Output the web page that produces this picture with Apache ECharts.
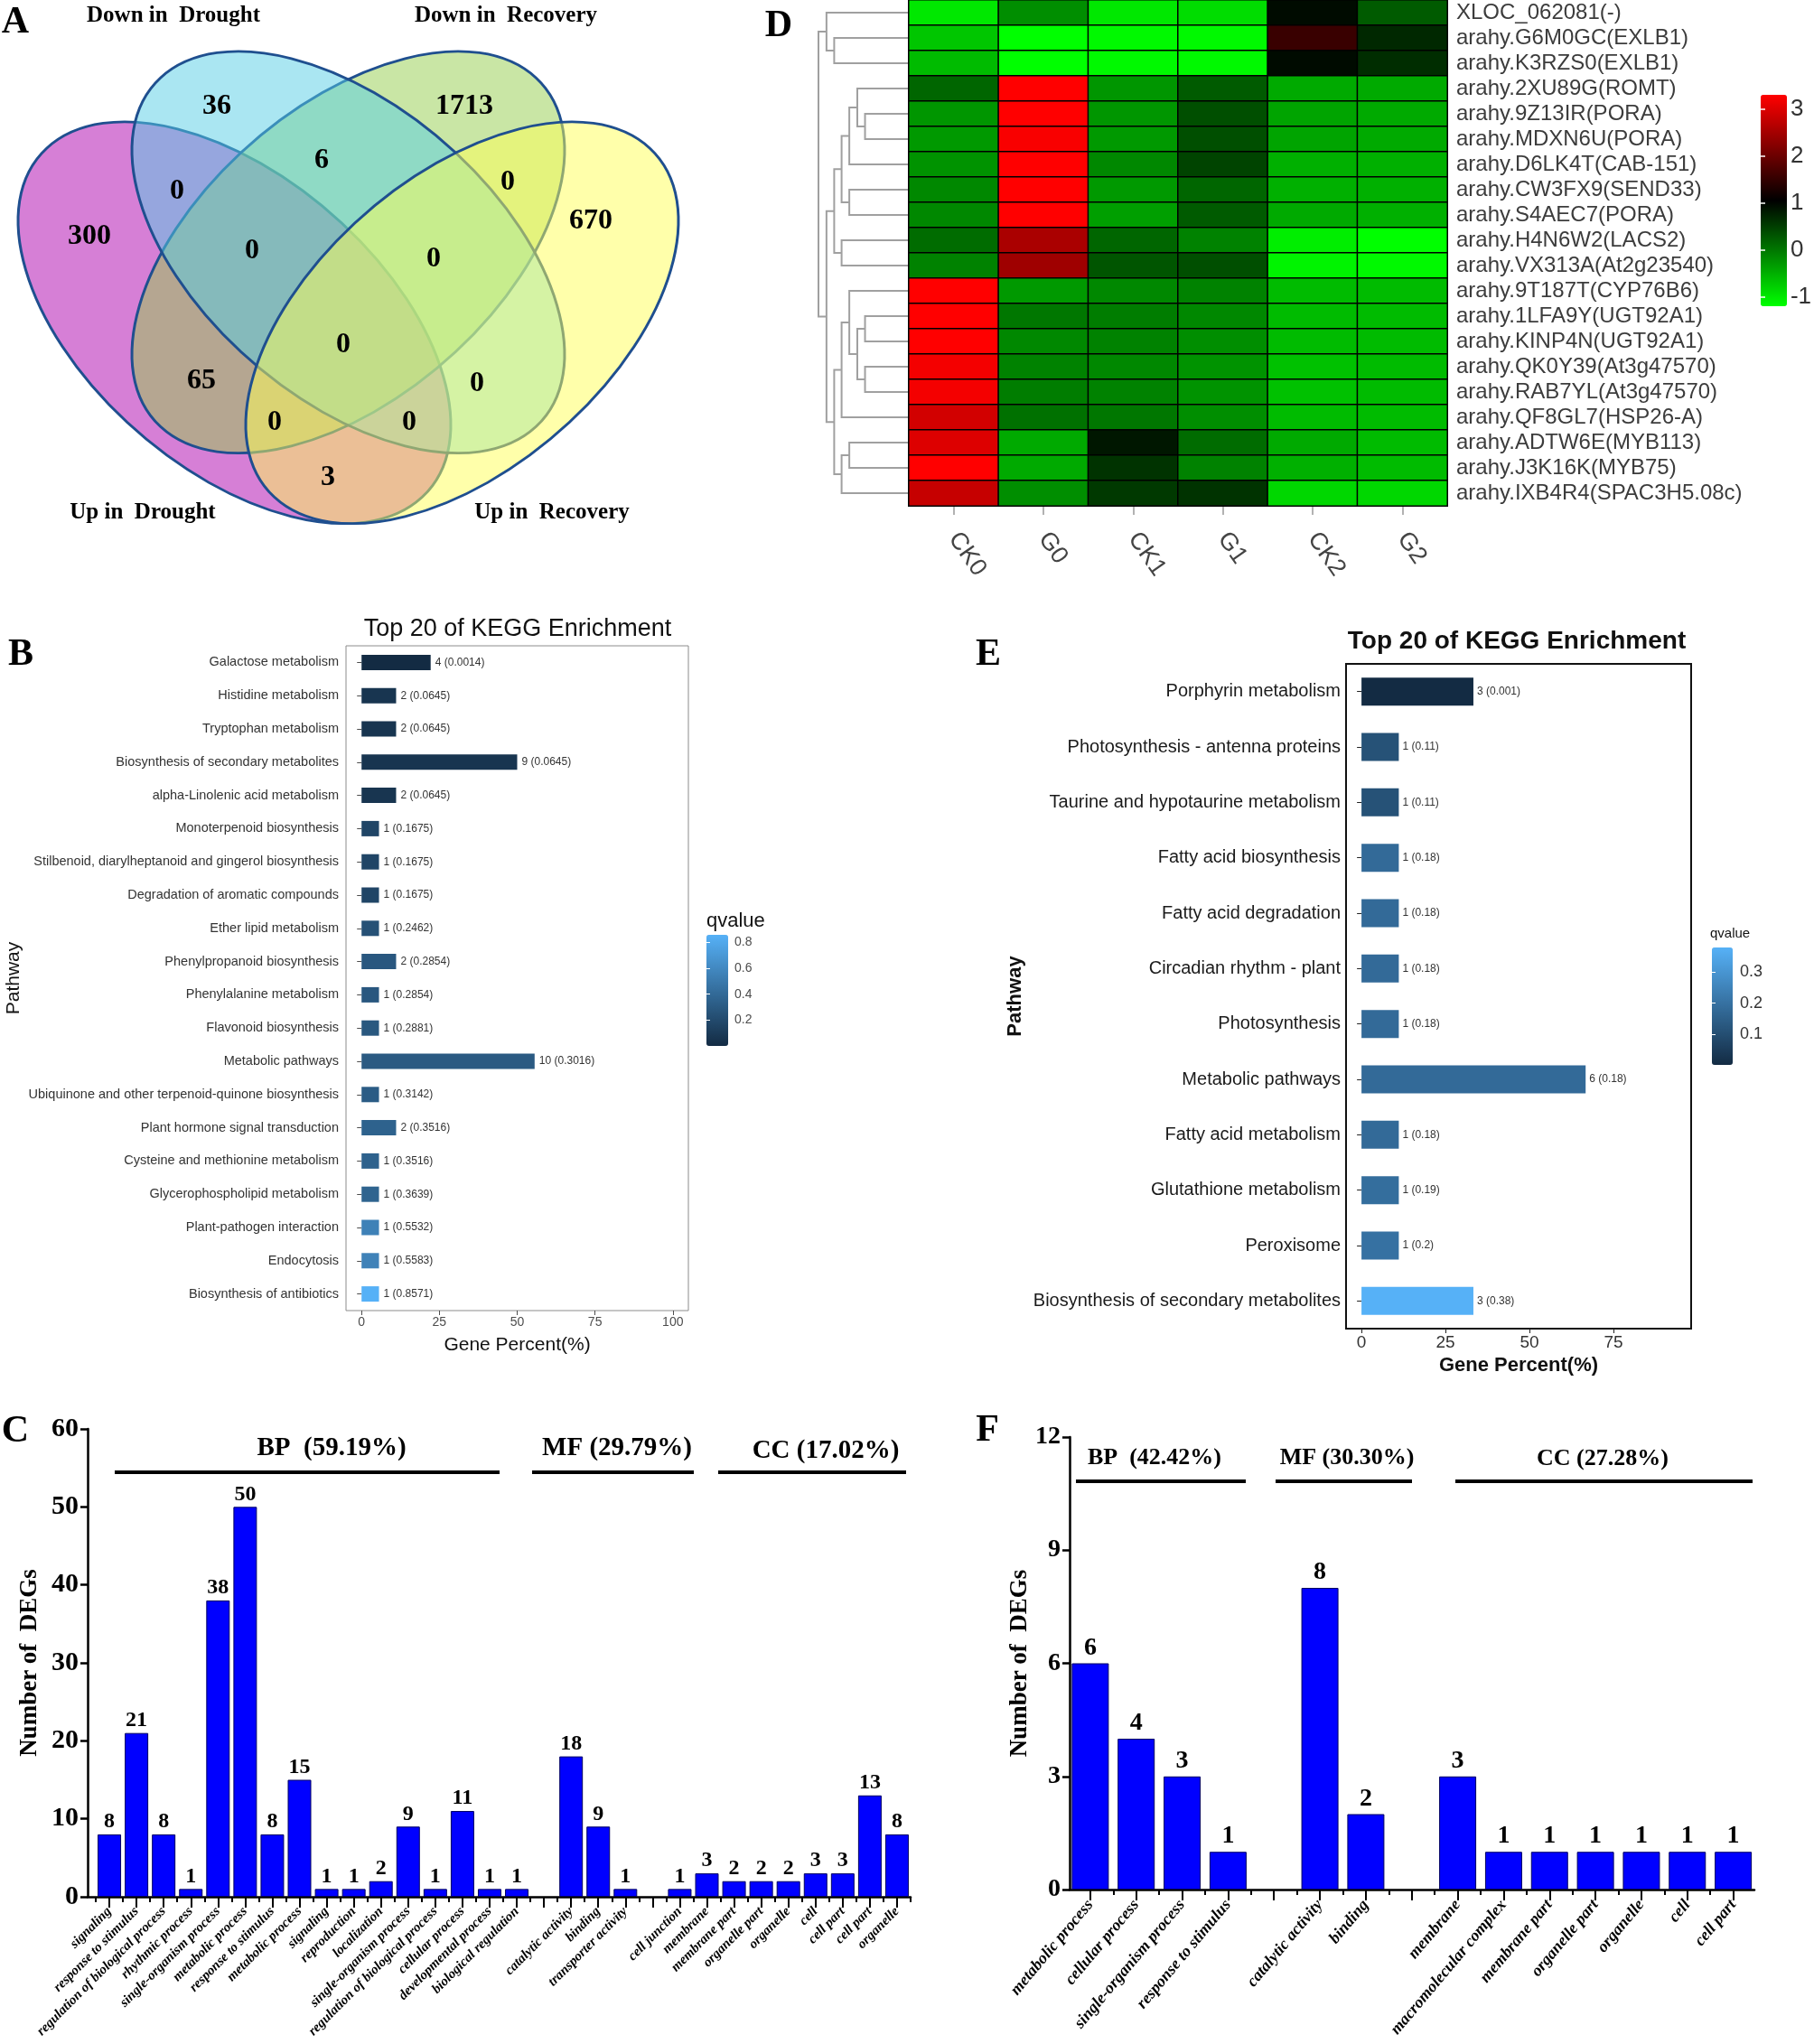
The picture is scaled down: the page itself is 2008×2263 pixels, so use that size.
<!DOCTYPE html>
<html><head><meta charset="utf-8">
<script src="https://cdn.jsdelivr.net/npm/echarts@6/dist/echarts.min.js"></script>
<style>html,body{margin:0;padding:0;background:#fff;}#c{width:2008px;height:2263px;}</style>
</head><body><div id="c"></div>
<script>
// ================= DATA =================
// Panel A – Venn
const vennSetNames = ['Down in  Drought', 'Down in  Recovery', 'Up in  Drought', 'Up in  Recovery'];
const vennRegionCounts = [36, 1713, 300, 670, 6, 0, 0, 0, 0, 0, 65, 0, 0, 0, 3];

// Panel D – heatmap
const heatCols = ['CK0', 'G0', 'CK1', 'G1', 'CK2', 'G2'];
const heatRows = ['XLOC_062081(-)', 'arahy.G6M0GC(EXLB1)', 'arahy.K3RZS0(EXLB1)', 'arahy.2XU89G(ROMT)',
  'arahy.9Z13IR(PORA)', 'arahy.MDXN6U(PORA)', 'arahy.D6LK4T(CAB-151)', 'arahy.CW3FX9(SEND33)',
  'arahy.S4AEC7(PORA)', 'arahy.H4N6W2(LACS2)', 'arahy.VX313A(At2g23540)', 'arahy.9T187T(CYP76B6)',
  'arahy.1LFA9Y(UGT92A1)', 'arahy.KINP4N(UGT92A1)', 'arahy.QK0Y39(At3g47570)', 'arahy.RAB7YL(At3g47570)',
  'arahy.QF8GL7(HSP26-A)', 'arahy.ADTW6E(MYB113)', 'arahy.J3K16K(MYB75)', 'arahy.IXB4R4(SPAC3H5.08c)'];
const heatValues = [
  [-1.0, -0.2, -1.0, -0.9, 0.95, 0.25],
  [-0.7, -1.2, -1.15, -1.15, 1.55, 0.7],
  [-0.6, -1.2, -1.15, -1.15, 0.95, 0.65],
  [0.15, 3.3, -0.27, 0.25, -0.45, -0.45],
  [-0.27, 3.3, -0.27, 0.35, -0.4, -0.45],
  [-0.3, 3.25, -0.3, 0.35, -0.4, -0.45],
  [-0.25, 3.3, -0.15, 0.45, -0.5, -0.5],
  [-0.15, 3.3, -0.3, 0.15, -0.5, -0.5],
  [-0.15, 3.3, -0.35, 0.25, -0.45, -0.5],
  [0.1, 2.55, 0.15, -0.1, -1.05, -1.2],
  [-0.1, 2.45, 0.3, 0.35, -1.1, -1.15],
  [3.3, -0.3, -0.15, -0.1, -0.6, -0.6],
  [3.3, 0.0, -0.05, -0.15, -0.6, -0.6],
  [3.3, -0.15, -0.1, -0.2, -0.6, -0.6],
  [3.2, -0.1, -0.15, -0.25, -0.65, -0.6],
  [3.2, -0.05, -0.1, -0.25, -0.65, -0.6],
  [2.9, 0.05, 0.0, -0.2, -0.6, -0.6],
  [3.0, -0.45, 0.85, 0.1, -0.45, -0.6],
  [3.3, -0.45, 0.6, -0.1, -0.5, -0.6],
  [2.8, -0.2, 0.55, 0.6, -0.85, -0.85]
];
const heatTicks = [-1, 0, 1, 2, 3];
// dendrogram merges (hclust style: negative = leaf row number, positive = earlier merge), height
const dendroMerges = [
  [-2, -3, 242], [-1, 1, 267], [-5, -6, 142], [-4, 3, 167], [4, -7, 193], [-8, -9, 193],
  [5, 6, 218], [-10, -11, 218], [7, 8, 242], [-13, -14, 142], [-15, -16, 142], [10, 11, 167],
  [-12, 12, 193], [13, -17, 218], [-18, -19, 193], [15, -20, 218], [14, 16, 242], [9, 17, 267], [2, 18, 293]
];

// Panel B – KEGG
const keggBNames = ['Galactose metabolism', 'Histidine metabolism', 'Tryptophan metabolism',
  'Biosynthesis of secondary metabolites', 'alpha-Linolenic acid metabolism', 'Monoterpenoid biosynthesis',
  'Stilbenoid, diarylheptanoid and gingerol biosynthesis', 'Degradation of aromatic compounds',
  'Ether lipid metabolism', 'Phenylpropanoid biosynthesis', 'Phenylalanine metabolism', 'Flavonoid biosynthesis',
  'Metabolic pathways', 'Ubiquinone and other terpenoid-quinone biosynthesis', 'Plant hormone signal transduction',
  'Cysteine and methionine metabolism', 'Glycerophospholipid metabolism', 'Plant-pathogen interaction',
  'Endocytosis', 'Biosynthesis of antibiotics'];
const keggBCounts = [4, 2, 2, 9, 2, 1, 1, 1, 1, 2, 1, 1, 10, 1, 2, 1, 1, 1, 1, 1];
const keggBPercent = [22.2, 11.1, 11.1, 50.0, 11.1, 5.6, 5.6, 5.6, 5.6, 11.1, 5.6, 5.6, 55.6, 5.6, 11.1, 5.6, 5.6, 5.6, 5.6, 5.6];
const keggBQ = [0.0014, 0.0645, 0.0645, 0.0645, 0.0645, 0.1675, 0.1675, 0.1675, 0.2462, 0.2854, 0.2854, 0.2881,
  0.3016, 0.3142, 0.3516, 0.3516, 0.3639, 0.5532, 0.5583, 0.8571];
const keggBTicks = [0, 25, 50, 75, 100];
const keggBQTicks = [0.2, 0.4, 0.6, 0.8];

// Panel E – KEGG
const keggENames = ['Porphyrin metabolism', 'Photosynthesis - antenna proteins', 'Taurine and hypotaurine metabolism',
  'Fatty acid biosynthesis', 'Fatty acid degradation', 'Circadian rhythm - plant', 'Photosynthesis',
  'Metabolic pathways', 'Fatty acid metabolism', 'Glutathione metabolism', 'Peroxisome',
  'Biosynthesis of secondary metabolites'];
const keggECounts = [3, 1, 1, 1, 1, 1, 1, 6, 1, 1, 1, 3];
const keggEPercent = [33.3, 11.1, 11.1, 11.1, 11.1, 11.1, 11.1, 66.7, 11.1, 11.1, 11.1, 33.3];
const keggEQ = [0.001, 0.11, 0.11, 0.18, 0.18, 0.18, 0.18, 0.18, 0.18, 0.19, 0.2, 0.38];
const keggETicks = [0, 25, 50, 75];
const keggEQTicks = [0.1, 0.2, 0.3];

// Panel C – GO
const goC_BP = ['signaling', 'response to stimulus', 'regulation of biological process', 'rhythmic process',
  'single-organism process', 'metabolic process', 'response to stimulus', 'metabolic process', 'signaling',
  'reproduction', 'localization', 'single-organism process', 'regulation of biological process',
  'cellular process', 'developmental process', 'biological regulation'];
const goC_BPvals = [8, 21, 8, 1, 38, 50, 8, 15, 1, 1, 2, 9, 1, 11, 1, 1];
const goC_MF = ['catalytic activity', 'binding', 'transporter activity'];
const goC_MFvals = [18, 9, 1];
const goC_CC = ['cell junction', 'membrane', 'membrane part', 'organelle part', 'organelle', 'cell', 'cell part', 'cell part', 'organelle'];
const goC_CCvals = [1, 3, 2, 2, 2, 3, 3, 13, 8];
const goC_groups = ['BP  (59.19%)', 'MF (29.79%)', 'CC (17.02%)'];

// Panel F – GO
const goF_BP = ['metabolic process', 'cellular process', 'single-organism process', 'response to stimulus'];
const goF_BPvals = [6, 4, 3, 1];
const goF_MF = ['catalytic activity', 'binding'];
const goF_MFvals = [8, 2];
const goF_CC = ['membrane', 'macromolecular complex', 'membrane part', 'organelle part', 'organelle', 'cell', 'cell part'];
const goF_CCvals = [3, 1, 1, 1, 1, 1, 1];
const goF_groups = ['BP  (42.42%)', 'MF (30.30%)', 'CC (27.28%)'];

// ================= LAYOUT / STYLE =================
const SERIF = '"Liberation Serif","Times New Roman",serif';
const SANS = '"Liberation Sans",Arial,sans-serif';

// Venn ellipses, local coords of a group (origin at 385.5,279.3, vertical squeeze)
const vennEllipses = [ // drawing order: pink (Up in Drought), green (Down in Recovery), cyan (Down in Drought), yellow (Up in Recovery)
  {x: -126, y: 84, rot: -Math.PI / 4, fill: 'rgba(173,0,173,0.5)'},
  {x: 0, y: 0, rot: Math.PI / 4, fill: 'rgba(147,205,75,0.5)'},
  {x: 0, y: 0, rot: -Math.PI / 4, fill: 'rgba(85,205,229,0.5)'},
  {x: 126, y: 84, rot: Math.PI / 4, fill: 'rgba(255,255,85,0.5)'}
];
const vennRX = 294, vennRY = 168;
const vennCountPos = [[240,118],[514,118],[99,262],[654,245],[356,178],[196,212],[562,202],[279,278],[480,287],[380,382],[223,422],[528,425],[304,468],[453,468],[363,529]];
const vennLabelPos = [[192,18],[560,18],[158,568],[611,568]];

function txt(x, y, text, font, opts) {
  opts = opts || {};
  return {type: 'text', x: x, y: y, rotation: opts.rotation || 0, z: 100,
    style: {text: text, font: font, fill: opts.fill || '#000',
      align: opts.align || 'center', verticalAlign: opts.valign || 'middle',
      textAlign: opts.align || 'center', textVerticalAlign: opts.valign || 'middle'}};
}

const graphics = [];
graphics.push({type: 'group', x: 385.5, y: 279.3, scaleX: 1, scaleY: 780 / 840, z: 10,
  children: vennEllipses.map(e => ({type: 'ellipse', x: e.x, y: e.y, rotation: e.rot, z: 10,
    shape: {cx: 0, cy: 0, rx: vennRX, ry: vennRY}, style: {fill: e.fill, stroke: '#1f4f8f', lineWidth: 3}}))});
vennRegionCounts.forEach((v, i) => graphics.push(txt(vennCountPos[i][0], vennCountPos[i][1], String(v), 'bold 32px ' + SERIF)));
vennSetNames.forEach((s, i) => graphics.push(txt(vennLabelPos[i][0], vennLabelPos[i][1], s, 'bold 25px ' + SERIF)));

// panel letters
[['A',17,25],['D',862,29],['B',23,725],['E',1094,725],['C',17,1585],['F',1093,1584]].forEach(p =>
  graphics.push(txt(p[1], p[2], p[0], 'bold 42px ' + SERIF)));

// titles & colorbar titles
graphics.push(txt(573, 697, 'Top 20 of KEGG Enrichment', '27px ' + SANS, {fill: '#111'}));
graphics.push(txt(1679, 710, 'Top 20 of KEGG Enrichment', 'bold 28px ' + SANS, {fill: '#111'}));
graphics.push(txt(782, 1020, 'qvalue', '22px ' + SANS, {align: 'left', fill: '#111'}));
graphics.push(txt(1893, 1034, 'qvalue', '15px ' + SANS, {align: 'left', fill: '#111'}));

// GO group annotations
const goCGroupLayout = [[367,1604,127,553],[683,1604,589,768],[914,1607,795,1003]];
const goFGroupLayout = [[1278,1614,1191,1379],[1491,1614,1412,1563],[1774,1615,1611,1940]];
goC_groups.forEach((g, i) => {
  const L = goCGroupLayout[i];
  graphics.push(txt(L[0], L[1], g, 'bold 29px ' + SERIF));
  graphics.push({type: 'line', shape: {x1: L[2], y1: 1630, x2: L[3], y2: 1630}, style: {stroke: '#000', lineWidth: 4}});
});
goF_groups.forEach((g, i) => {
  const L = goFGroupLayout[i];
  graphics.push(txt(L[0], L[1], g, 'bold 26px ' + SERIF));
  graphics.push({type: 'line', shape: {x1: L[2], y1: 1640, x2: L[3], y2: 1640}, style: {stroke: '#000', lineWidth: 4}});
});

// ================= derived series data =================
function dendroSegments() {
  const pos = [];
  const node = r => r < 0 ? {x: 0, y: -r - 1} : pos[r - 1];
  const segs = [];
  dendroMerges.forEach(m => {
    const A = node(m[0]), B = node(m[1]), h = m[2];
    segs.push({coords: [[A.x, A.y], [h, A.y], [h, B.y], [B.x, B.y]]});
    pos.push({x: h, y: (A.y + B.y) / 2});
  });
  return segs;
}
const heatData = [];
heatValues.forEach((row, r) => row.forEach((v, c) => heatData.push([c, r, v])));

const keggBData = keggBNames.map((n, i) => [keggBPercent[i], i, keggBQ[i], keggBCounts[i]]);
const keggEData = keggENames.map((n, i) => [keggEPercent[i], i, keggEQ[i], keggECounts[i]]);

function goSlots(groups) { // groups separated by one empty slot
  const names = {}, data = []; let s = 0;
  groups.forEach((g, gi) => {
    if (gi > 0) s++;
    g[0].forEach((n, i) => { names[s] = n; data.push([s, g[1][i]]); s++; });
  });
  const centers = [], bounds = [];
  for (let i = 0; i < s; i++) centers.push(i);
  for (let i = 0; i <= s; i++) bounds.push(i - 0.5);
  return {names, data, centers, bounds, n: s};
}
const goC = goSlots([[goC_BP, goC_BPvals], [goC_MF, goC_MFvals], [goC_CC, goC_CCvals]]);
const goF = goSlots([[goF_BP, goF_BPvals], [goF_MF, goF_MFvals], [goF_CC, goF_CCvals]]);

// ================= OPTION =================
const hidden = {show: false};
const option = {
  animation: false,
  backgroundColor: '#fff',
  grid: [
    {left: 906, top: 0, width: 100, height: 560},          // 0 dendrogram
    {left: 1006, top: 0, width: 596, height: 560},         // 1 heatmap
    {left: 1949, top: 105, width: 29, height: 234},        // 2 heat colorbar
    {left: 383, top: 715, width: 379, height: 736, show: true, borderColor: '#8c8c8c', borderWidth: 1, backgroundColor: '#fff'}, // 3 B
    {left: 782, top: 1035, width: 24, height: 123},        // 4 B colorbar
    {left: 1490, top: 735, width: 382, height: 736, show: true, borderColor: '#111', borderWidth: 2, backgroundColor: '#fff'}, // 5 E
    {left: 1895, top: 1049, width: 23, height: 130},       // 6 E colorbar
    {left: 97, top: 1582, width: 911, height: 518},        // 7 C
    {left: 1184, top: 1591, width: 758, height: 501}       // 8 F
  ],
  xAxis: [
    {gridIndex: 0, type: 'value', min: 0, max: 293, inverse: true, show: false},
    {gridIndex: 1, type: 'category', data: heatCols, position: 'bottom', axisLine: hidden,
      axisTick: {show: true, alignWithLabel: true, length: 10, lineStyle: {color: '#999', width: 1.5}},
      axisLabel: {interval: 0, rotate: -55, margin: 32, fontSize: 27, fontFamily: SANS, color: '#444'}},
    {gridIndex: 2, type: 'value', show: false},
    {gridIndex: 3, type: 'value', min: -5, max: 105, axisLine: hidden, splitLine: hidden,
      axisTick: {show: true, customValues: keggBTicks, length: 5, lineStyle: {color: '#4d4d4d'}},
      axisLabel: {customValues: keggBTicks, fontSize: 14, fontFamily: SANS, color: '#4d4d4d', margin: 6},
      name: 'Gene Percent(%)', nameLocation: 'middle', nameGap: 28, nameTextStyle: {fontSize: 21, fontFamily: SANS, color: '#111'}},
    {gridIndex: 4, type: 'value', show: false},
    {gridIndex: 5, type: 'value', min: -4.6, max: 98.1, axisLine: hidden, splitLine: hidden,
      axisTick: {show: true, customValues: keggETicks, length: 5, lineStyle: {color: '#222'}},
      axisLabel: {customValues: keggETicks, fontSize: 19, fontFamily: SANS, color: '#333', margin: 6},
      name: 'Gene Percent(%)', nameLocation: 'middle', nameGap: 30, nameTextStyle: {fontSize: 22, fontWeight: 'bold', fontFamily: SANS, color: '#111'}},
    {gridIndex: 6, type: 'value', show: false},
    {gridIndex: 7, type: 'value', min: -0.8, max: 29.5, position: 'bottom', splitLine: hidden,
      axisLine: {onZero: false, lineStyle: {color: '#000', width: 2.5}},
      axisTick: {show: true, customValues: goC.centers, length: 12, lineStyle: {color: '#000', width: 2}},
      axisLabel: {customValues: goC.data.map(d => d[0]), formatter: v => goC.names[Math.round(v)] || '',
        rotate: 45, margin: 14, fontSize: 15, fontWeight: 'bold', fontStyle: 'italic', fontFamily: SERIF, color: '#000'}},
    {gridIndex: 7, type: 'value', min: -0.8, max: 29.5, position: 'bottom', offset: 0, splitLine: hidden, axisLine: {show: false, onZero: false},
      axisLabel: hidden, axisTick: {show: true, customValues: goC.bounds, length: 6, lineStyle: {color: '#000', width: 2}}},
    {gridIndex: 8, type: 'value', min: -0.45, max: 14.46, position: 'bottom', splitLine: hidden,
      axisLine: {onZero: false, lineStyle: {color: '#000', width: 2.5}},
      axisTick: {show: true, customValues: goF.centers, length: 12, lineStyle: {color: '#000', width: 2}},
      axisLabel: {customValues: goF.data.map(d => d[0]), formatter: v => goF.names[Math.round(v)] || '',
        rotate: 50, margin: 14, fontSize: 18, fontWeight: 'bold', fontStyle: 'italic', fontFamily: SERIF, color: '#000'}},
    {gridIndex: 8, type: 'value', min: -0.45, max: 14.46, position: 'bottom', offset: 0, splitLine: hidden, axisLine: {show: false, onZero: false},
      axisLabel: hidden, axisTick: {show: true, customValues: goF.bounds, length: 6, lineStyle: {color: '#000', width: 2}}}
  ],
  yAxis: [
    {gridIndex: 0, type: 'value', min: -0.5, max: 19.5, inverse: true, show: false},
    {gridIndex: 1, type: 'category', data: heatRows, inverse: true, position: 'right', axisLine: hidden, axisTick: hidden,
      axisLabel: {interval: 0, margin: 10, fontSize: 24, fontFamily: SANS, color: '#3c3c3c'}},
    {gridIndex: 2, type: 'value', min: -1.2, max: 3.3, position: 'right', z: 10, splitLine: hidden, axisLine: hidden,
      axisTick: {show: true, inside: true, customValues: heatTicks, length: 5, lineStyle: {color: '#fff', width: 1.5}},
      axisLabel: {customValues: heatTicks, margin: 10, fontSize: 26, fontFamily: SANS, color: '#333'}},
    {gridIndex: 2, type: 'value', min: -1.2, max: 3.3, position: 'left', z: 10, splitLine: hidden, axisLine: hidden, axisLabel: hidden,
      axisTick: {show: true, inside: true, customValues: heatTicks, length: 5, lineStyle: {color: '#fff', width: 1.5}}},
    {gridIndex: 3, type: 'category', data: keggBNames, inverse: true, axisLine: hidden,
      axisTick: {show: true, alignWithLabel: true, length: 5, lineStyle: {color: '#4d4d4d'}},
      axisLabel: {interval: 0, margin: 8, fontSize: 14.5, fontFamily: SANS, color: '#333'},
      name: 'Pathway', nameLocation: 'middle', nameGap: 357, nameTextStyle: {fontSize: 21, fontFamily: SANS, color: '#111'}},
    {gridIndex: 4, type: 'value', min: 0.0014, max: 0.8571, position: 'right', z: 10, splitLine: hidden, axisLine: hidden,
      axisTick: {show: true, inside: true, customValues: keggBQTicks, length: 4, lineStyle: {color: '#fff'}},
      axisLabel: {customValues: keggBQTicks, margin: 7, fontSize: 14, fontFamily: SANS, color: '#4d4d4d'}},
    {gridIndex: 4, type: 'value', min: 0.0014, max: 0.8571, position: 'left', z: 10, splitLine: hidden, axisLine: hidden, axisLabel: hidden,
      axisTick: {show: true, inside: true, customValues: keggBQTicks, length: 4, lineStyle: {color: '#fff'}}},
    {gridIndex: 5, type: 'category', data: keggENames, inverse: true, axisLine: hidden,
      axisTick: {show: true, alignWithLabel: true, length: 5, lineStyle: {color: '#222'}},
      axisLabel: {interval: 0, margin: 6, fontSize: 20, fontFamily: SANS, color: '#1a1a1a'},
      name: 'Pathway', nameLocation: 'middle', nameGap: 355, nameTextStyle: {fontSize: 22, fontWeight: 'bold', fontFamily: SANS, color: '#111'}},
    {gridIndex: 6, type: 'value', min: 0.001, max: 0.38, position: 'right', z: 10, splitLine: hidden, axisLine: hidden,
      axisTick: {show: true, inside: true, customValues: keggEQTicks, length: 4, lineStyle: {color: '#fff'}},
      axisLabel: {customValues: keggEQTicks, margin: 8, fontSize: 18, fontFamily: SANS, color: '#333'}},
    {gridIndex: 6, type: 'value', min: 0.001, max: 0.38, position: 'left', z: 10, splitLine: hidden, axisLine: hidden, axisLabel: hidden,
      axisTick: {show: true, inside: true, customValues: keggEQTicks, length: 4, lineStyle: {color: '#fff'}}},
    {gridIndex: 7, type: 'value', min: 0, max: 60, interval: 10, splitLine: hidden,
      axisLine: {show: true, onZero: false, lineStyle: {color: '#000', width: 2.5}},
      axisTick: {show: true, length: 8, lineStyle: {color: '#000', width: 2.5}},
      axisLabel: {margin: 10, fontSize: 30, fontWeight: 'bold', fontFamily: SERIF, color: '#000'},
      name: 'Number of  DEGs', nameLocation: 'middle', nameGap: 50, nameTextStyle: {fontSize: 27, fontWeight: 'bold', fontFamily: SERIF, color: '#000'}},
    {gridIndex: 8, type: 'value', min: 0, max: 12, interval: 3, splitLine: hidden,
      axisLine: {show: true, onZero: false, lineStyle: {color: '#000', width: 2.5}},
      axisTick: {show: true, length: 8, lineStyle: {color: '#000', width: 2.5}},
      axisLabel: {margin: 10, fontSize: 28, fontWeight: 'bold', fontFamily: SERIF, color: '#000'},
      name: 'Number of  DEGs', nameLocation: 'middle', nameGap: 40, nameTextStyle: {fontSize: 27, fontWeight: 'bold', fontFamily: SERIF, color: '#000'}}
  ],
  visualMap: [
    {type: 'continuous', seriesIndex: 1, dimension: 2, min: -1.2, max: 3.3, calculable: false, hoverLink: false,
      inRange: {color: ['#00ff00', '#000000', '#ff0000']}, left: 1949, top: 105, itemWidth: 29, itemHeight: 234, padding: 0, text: null},
    {type: 'continuous', seriesIndex: 2, dimension: 2, min: 0.0014, max: 0.8571, calculable: false, hoverLink: false,
      inRange: {color: ['#132B43', '#56B1F7']}, left: 782, top: 1035, itemWidth: 24, itemHeight: 123, padding: 0, text: null},
    {type: 'continuous', seriesIndex: 3, dimension: 2, min: 0.001, max: 0.38, calculable: false, hoverLink: false,
      inRange: {color: ['#132B43', '#56B1F7']}, left: 1895, top: 1049, itemWidth: 23, itemHeight: 130, padding: 0, text: null}
  ],
  series: [
    {type: 'lines', coordinateSystem: 'cartesian2d', xAxisIndex: 0, yAxisIndex: 0, polyline: true, silent: true,
      data: dendroSegments(), lineStyle: {color: '#a0a0a0', width: 2, opacity: 1}},
    {type: 'heatmap', xAxisIndex: 1, yAxisIndex: 1, data: heatData, itemStyle: {borderColor: '#000', borderWidth: 1.5}},
    {type: 'bar', xAxisIndex: 3, yAxisIndex: 4, data: keggBData, encode: {x: 0, y: 1}, barWidth: 17,
      label: {show: true, position: 'right', distance: 5, fontSize: 12, fontFamily: SANS, color: '#333',
        formatter: p => p.value[3] + ' (' + p.value[2] + ')'}},
    {type: 'bar', xAxisIndex: 5, yAxisIndex: 7, data: keggEData, encode: {x: 0, y: 1}, barWidth: 31,
      label: {show: true, position: 'right', distance: 4, fontSize: 12, fontFamily: SANS, color: '#333',
        formatter: p => p.value[3] + ' (' + p.value[2] + ')'}},
    {type: 'bar', xAxisIndex: 7, yAxisIndex: 10, data: goC.data, barWidth: 26,
      itemStyle: {color: '#0000ff', borderColor: '#000060', borderWidth: 1},
      label: {show: true, position: 'top', distance: 2, fontSize: 24, fontWeight: 'bold', fontFamily: SERIF, color: '#000'}},
    {type: 'bar', xAxisIndex: 9, yAxisIndex: 11, data: goF.data, barWidth: 41,
      itemStyle: {color: '#0000ff', borderColor: '#000060', borderWidth: 1},
      label: {show: true, position: 'top', distance: 3, fontSize: 28, fontWeight: 'bold', fontFamily: SERIF, color: '#000'}}
  ],
  graphic: graphics
};
const chart = echarts.init(document.getElementById('c'), null, {renderer: 'canvas', width: 2008, height: 2263});
chart.setOption(option);
</script></body></html>
